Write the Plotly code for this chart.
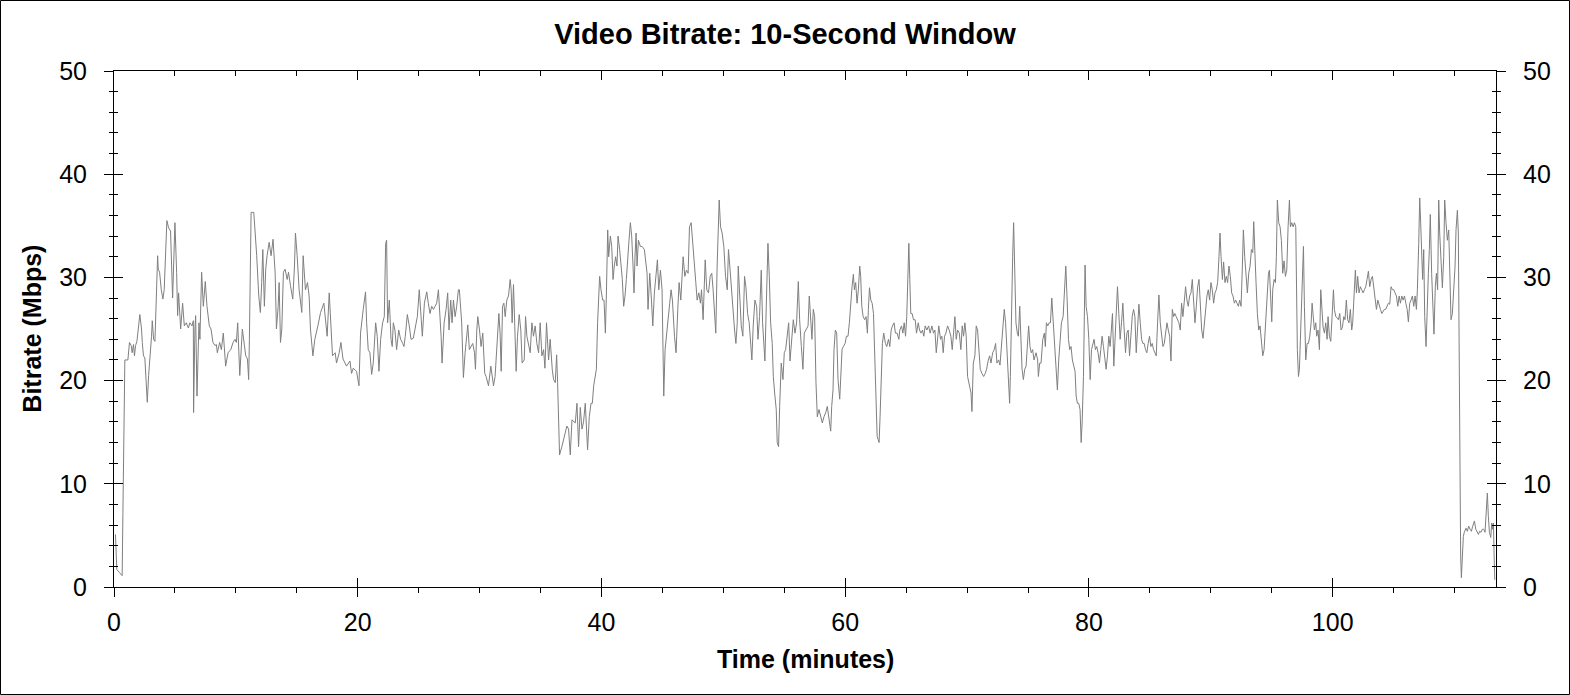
import plotly.graph_objs as go

# =============================================================================
# Data: (minute, Mbps), one list per stretch of film
# =============================================================================

SEG_A = [(0.12, 5.1), (0.23, 1.7), (0.45, 1.4), (0.67, 1.1), (0.73, 7.1), (0.84, 15.9),
         (0.89, 22.0), (1.14, 22.0), (1.27, 23.7), (1.41, 23.4), (1.49, 22.7), (1.60, 23.5),
         (1.68, 22.4), (1.77, 23.4), (1.88, 23.8), (2.12, 26.4), (2.26, 25.0), (2.32, 23.7),
         (2.42, 22.4), (2.53, 22.2), (2.70, 19.2), (2.73, 17.9), (2.84, 20.5), (2.97, 22.4),
         (3.08, 24.3), (3.14, 25.8), (3.25, 24.0), (3.36, 23.8), (3.47, 28.2), (3.58, 32.1),
         (3.63, 30.8), (3.74, 30.5), (3.88, 28.8), (4.01, 27.9), (4.12, 28.8), (4.21, 32.2),
         (4.34, 35.5), (4.48, 34.8), (4.64, 34.5), (4.81, 28.0), (5.00, 35.3), (5.14, 30.5),
         (5.22, 26.3), (5.30, 28.5), (5.47, 25.0), (5.63, 27.5), (5.77, 25.3), (5.93, 25.6),
         (6.10, 25.1), (6.23, 25.6), (6.40, 25.3), (6.51, 25.8), (6.53, 16.9), (6.64, 25.0),
         (6.70, 26.3), (6.81, 18.5), (6.89, 23.4), (6.97, 25.6), (7.05, 24.0), (7.19, 30.5),
         (7.33, 27.2), (7.49, 29.6), (7.63, 27.2), (7.82, 25.3), (7.96, 25.0), (8.12, 23.7),
         (8.29, 23.4), (8.40, 23.5), (8.48, 22.7), (8.67, 23.7), (8.81, 23.0), (8.97, 24.6),
         (9.16, 21.4), (9.36, 22.7), (9.58, 23.0), (9.77, 23.7), (9.93, 24.0), (10.04, 23.7),
         (10.15, 25.6), (10.32, 20.5), (10.53, 25.0), (10.70, 23.0), (10.81, 22.4), (10.95, 22.1),
         (11.05, 20.1), (11.11, 24.0), (11.25, 36.3), (11.47, 36.3), (11.55, 35.0), (11.71, 32.1),
         (11.88, 28.2), (12.01, 26.6), (12.12, 29.5), (12.21, 32.7), (12.34, 27.2), (12.45, 30.8),
         (12.56, 32.1), (12.73, 33.4), (12.89, 32.1), (13.05, 33.7), (13.22, 30.5), (13.33, 25.0),
         (13.47, 27.2), (13.55, 29.5), (13.66, 23.7), (13.77, 25.0), (13.90, 30.5), (14.04, 30.8),
         (14.21, 29.8), (14.32, 30.5), (14.48, 29.2), (14.67, 27.9), (14.81, 31.1), (14.89, 34.3),
         (15.03, 32.1), (15.19, 28.8), (15.41, 26.6), (15.52, 32.1), (15.71, 28.8), (15.88, 29.5),
         (16.01, 28.2), (16.12, 25.0), (16.32, 22.4), (16.48, 24.0), (16.73, 25.3), (16.95, 26.6),
         (17.22, 27.5), (17.49, 24.3), (17.66, 28.5), (17.82, 24.3), (17.93, 22.4), (18.15, 22.7),
         (18.26, 21.7), (18.48, 22.7), (18.62, 23.7), (18.79, 22.1), (18.95, 21.7)]

SEG_B = [(19.08, 21.4), (19.36, 21.9), (19.49, 20.7), (19.63, 21.2), (19.90, 20.9), (20.10, 19.5),
         (20.23, 24.6), (20.45, 26.9), (20.64, 28.6), (20.73, 25.6), (20.86, 23.0), (21.00, 22.7),
         (21.14, 20.6), (21.27, 21.7), (21.47, 25.6), (21.60, 24.3), (21.74, 20.9), (21.88, 24.0),
         (22.04, 25.6), (22.18, 26.2), (22.29, 33.3), (22.37, 33.6), (22.45, 25.6), (22.59, 27.8),
         (22.73, 24.0), (22.83, 23.3), (22.92, 25.6), (23.05, 24.9), (23.19, 23.0), (23.36, 24.9),
         (23.52, 24.0), (23.69, 23.6), (23.79, 23.3), (23.90, 24.3), (24.07, 26.4), (24.23, 25.3),
         (24.37, 24.0), (24.56, 24.1), (24.70, 24.9), (24.89, 26.2), (25.05, 28.8), (25.19, 25.9),
         (25.30, 24.3), (25.47, 27.5), (25.66, 28.6), (25.79, 27.5), (25.93, 26.5), (26.07, 27.2),
         (26.21, 26.9), (26.34, 27.2), (26.48, 27.5), (26.62, 28.8), (26.75, 26.5), (26.84, 24.3),
         (26.92, 21.7), (27.09, 25.6), (27.25, 26.9), (27.38, 28.5), (27.49, 24.9), (27.63, 27.8),
         (27.74, 25.6), (27.85, 27.8), (27.99, 26.2), (28.12, 27.2), (28.26, 28.8), (28.34, 28.8),
         (28.53, 25.6), (28.67, 20.3), (28.81, 22.7), (28.95, 24.6), (29.03, 25.4), (29.16, 23.0),
         (29.30, 23.3), (29.44, 23.6), (29.58, 22.7), (29.66, 21.1), (29.77, 24.9), (29.85, 26.2),
         (29.99, 24.9), (30.12, 23.3), (30.26, 24.6), (30.42, 20.7), (30.53, 20.4), (30.73, 19.5),
         (30.92, 21.4), (31.03, 20.4), (31.14, 19.5), (31.27, 20.4), (31.41, 22.7), (31.58, 26.5),
         (31.68, 24.6), (31.77, 20.9), (31.88, 27.2), (31.99, 27.5), (32.10, 26.2), (32.23, 27.8),
         (32.37, 28.2), (32.51, 29.8), (32.59, 28.8), (32.67, 25.6), (32.78, 29.3), (32.89, 25.6),
         (33.00, 20.9), (33.11, 24.3), (33.25, 26.4), (33.38, 24.9), (33.49, 21.7), (33.66, 22.0),
         (33.77, 26.2), (33.88, 24.3), (34.01, 23.6), (34.15, 22.7), (34.29, 25.6), (34.42, 24.3),
         (34.56, 25.3), (34.70, 23.6), (34.84, 22.7), (34.97, 25.6), (35.11, 22.4), (35.25, 23.0),
         (35.36, 21.2), (35.49, 25.6), (35.66, 22.0), (35.79, 24.0), (35.96, 21.1), (36.07, 20.1),
         (36.21, 19.8), (36.32, 22.5), (36.40, 19.8), (36.48, 15.9), (36.56, 12.8), (36.75, 13.6),
         (36.95, 14.6), (37.16, 15.6), (37.30, 15.3)]

SEG_C = [(37.44, 12.8), (37.58, 16.2), (37.71, 16.0), (37.85, 15.9), (37.99, 17.8), (38.12, 13.6),
         (38.26, 17.4), (38.40, 15.3), (38.53, 16.0), (38.67, 17.8), (38.86, 13.3), (39.00, 16.5),
         (39.14, 17.8), (39.25, 17.8), (39.36, 19.5), (39.49, 20.4), (39.58, 21.1), (39.68, 25.6),
         (39.79, 29.1), (39.85, 30.1), (39.96, 28.8), (40.10, 27.8), (40.21, 27.8), (40.32, 24.6),
         (40.40, 28.2), (40.51, 34.6), (40.59, 32.0), (40.73, 34.0), (40.84, 33.0), (40.95, 29.8),
         (41.05, 31.1), (41.16, 32.0), (41.27, 31.1), (41.36, 34.0), (41.49, 32.7), (41.60, 31.4),
         (41.71, 29.8), (41.82, 27.2), (41.93, 28.2), (42.04, 29.8), (42.15, 32.4), (42.26, 33.6),
         (42.37, 35.3), (42.48, 34.0), (42.59, 31.1), (42.67, 28.5), (42.75, 32.0), (42.84, 34.3),
         (42.92, 31.1), (43.03, 33.6), (43.19, 33.0), (43.33, 33.0), (43.52, 32.7), (43.63, 31.7),
         (43.74, 30.4), (43.82, 26.9), (43.96, 30.4), (44.10, 27.8), (44.21, 25.3), (44.34, 28.5),
         (44.45, 30.1), (44.59, 31.7), (44.70, 28.8), (44.84, 30.7), (44.97, 28.8), (45.08, 23.0),
         (45.11, 18.5), (45.22, 23.0), (45.36, 24.9), (45.49, 26.5), (45.60, 27.5), (45.71, 28.8),
         (45.82, 27.8), (45.99, 24.3), (46.12, 22.7), (46.26, 26.9), (46.37, 29.5), (46.51, 27.8),
         (46.62, 30.4), (46.70, 32.0), (46.84, 30.1), (46.97, 30.7), (47.11, 30.4), (47.22, 34.9),
         (47.36, 35.3), (47.49, 33.0), (47.63, 31.1), (47.74, 29.5), (47.85, 27.8), (47.99, 28.5),
         (48.12, 27.5), (48.21, 28.8), (48.34, 25.9), (48.51, 31.7), (48.64, 28.8), (48.78, 28.5),
         (48.92, 30.1), (49.05, 30.4), (49.16, 28.8), (49.30, 26.2), (49.38, 24.6), (49.49, 31.1),
         (49.58, 35.9), (49.66, 37.5), (49.77, 34.9), (49.90, 34.3), (50.04, 33.0), (50.18, 30.1),
         (50.32, 28.8), (50.42, 32.7), (50.53, 31.1), (50.67, 28.8), (50.78, 26.2), (50.92, 24.9),
         (51.03, 23.6), (51.14, 25.6), (51.22, 31.1), (51.36, 27.2), (51.47, 25.3), (51.60, 24.3),
         (51.74, 30.1), (51.85, 29.1), (51.99, 26.5), (52.12, 25.6), (52.26, 23.6), (52.34, 22.0),
         (52.45, 25.3), (52.59, 27.8), (52.73, 27.2), (52.84, 24.0), (52.97, 26.2), (53.11, 30.7),
         (53.22, 25.6), (53.33, 22.7), (53.41, 21.9), (53.52, 27.2), (53.66, 33.3), (53.77, 30.1),
         (53.88, 25.6), (54.01, 23.6), (54.10, 20.4), (54.21, 18.8), (54.34, 17.2), (54.42, 14.0),
         (54.53, 13.6), (54.62, 17.5), (54.75, 21.7), (54.89, 20.1), (55.00, 22.7), (55.11, 23.0),
         (55.25, 24.3), (55.36, 25.6), (55.47, 21.9), (55.60, 24.0), (55.74, 25.9), (55.88, 24.6),
         (56.01, 25.6), (56.15, 29.6), (56.26, 25.9), (56.40, 23.3), (56.53, 21.1), (56.64, 24.6),
         (56.75, 24.9)]

SEG_D = [(56.95, 25.3), (57.05, 28.2), (57.16, 26.5), (57.27, 24.0), (57.38, 26.9), (57.49, 26.2),
         (57.60, 19.8), (57.71, 16.5), (57.85, 17.2), (57.99, 16.5), (58.12, 15.9), (58.26, 16.5),
         (58.40, 16.9), (58.53, 17.5), (58.67, 16.5), (58.81, 15.1), (58.89, 17.5), (59.00, 19.1),
         (59.08, 23.0), (59.19, 24.9), (59.30, 24.6), (59.41, 20.1), (59.55, 18.2), (59.63, 20.4),
         (59.74, 23.0), (59.85, 23.3), (59.99, 23.6), (60.10, 24.3), (60.23, 24.3), (60.34, 25.6),
         (60.45, 27.8), (60.56, 29.1), (60.67, 30.3), (60.75, 28.8), (60.86, 29.5), (60.97, 27.5),
         (61.08, 28.8), (61.19, 31.1), (61.27, 30.1), (61.36, 27.2), (61.47, 26.2), (61.60, 25.9),
         (61.71, 26.2), (61.82, 24.6), (61.90, 26.9), (61.99, 29.0), (62.10, 27.8), (62.21, 27.5),
         (62.32, 26.5), (62.42, 22.7), (62.53, 18.5), (62.62, 14.6), (62.70, 14.3), (62.78, 14.0),
         (62.86, 16.5), (62.95, 20.4), (63.05, 23.6), (63.16, 24.6), (63.30, 23.6), (63.41, 23.3),
         (63.55, 24.0), (63.66, 23.3), (63.77, 24.9), (63.88, 25.3), (64.01, 25.6), (64.12, 24.6),
         (64.26, 24.6), (64.40, 24.0), (64.48, 24.9), (64.62, 25.3), (64.73, 24.6), (64.84, 25.6),
         (64.95, 24.3), (65.05, 26.2), (65.14, 29.1), (65.22, 33.3), (65.30, 29.8), (65.38, 26.5),
         (65.49, 26.5), (65.60, 25.9), (65.74, 25.9), (65.85, 24.6), (65.99, 25.6), (66.10, 24.9),
         (66.21, 24.6), (66.34, 24.9), (66.45, 24.3), (66.56, 25.3), (66.70, 24.9), (66.84, 25.3),
         (66.97, 24.6), (67.11, 25.3), (67.25, 24.6), (67.36, 24.9), (67.47, 22.7), (67.58, 24.3),
         (67.68, 25.3), (67.82, 24.0), (67.93, 24.3), (68.04, 22.7), (68.15, 24.3), (68.26, 24.6),
         (68.40, 25.3), (68.53, 24.9), (68.67, 24.3), (68.78, 23.0), (68.89, 24.9), (69.00, 26.2),
         (69.11, 24.0), (69.22, 24.9), (69.36, 24.6), (69.49, 23.0), (69.60, 25.3), (69.71, 24.3),
         (69.82, 25.6), (69.93, 24.3), (70.04, 20.4), (70.18, 19.5), (70.32, 18.8), (70.40, 17.0),
         (70.51, 21.7), (70.64, 22.4), (70.75, 25.3), (70.86, 24.9), (70.97, 22.7), (71.08, 21.1),
         (71.22, 20.7), (71.36, 20.4), (71.49, 20.7), (71.60, 21.1), (71.74, 22.0), (71.85, 22.4),
         (71.96, 21.7), (72.10, 22.7), (72.23, 23.0), (72.34, 23.6), (72.45, 21.7), (72.59, 22.0),
         (72.70, 21.5), (72.81, 23.3), (72.92, 24.3), (73.05, 26.9), (73.16, 25.6), (73.27, 23.3),
         (73.38, 20.4), (73.49, 17.8), (73.55, 20.4), (73.66, 28.8), (73.74, 32.0), (73.82, 35.3),
         (73.90, 30.4), (74.01, 25.6), (74.12, 24.6), (74.21, 24.3), (74.32, 27.2), (74.42, 24.0),
         (74.51, 21.1), (74.62, 20.1), (74.73, 21.1), (74.84, 21.4), (74.95, 23.6), (75.05, 25.3),
         (75.16, 23.3), (75.27, 22.7), (75.38, 23.0), (75.49, 22.0), (75.66, 22.7)]

SEG_E = [(75.79, 22.0), (75.85, 20.4), (75.96, 21.7), (76.07, 21.7), (76.21, 24.0), (76.34, 24.6),
         (76.42, 23.3), (76.51, 25.6), (76.62, 25.3), (76.73, 25.6), (76.84, 25.6), (76.95, 28.0),
         (77.05, 26.2), (77.16, 23.6), (77.30, 21.7), (77.41, 19.1), (77.52, 22.0), (77.63, 24.3),
         (77.74, 25.6), (77.88, 26.2), (77.99, 29.1), (78.10, 31.1), (78.21, 27.8), (78.32, 24.0),
         (78.42, 23.0), (78.53, 23.3), (78.64, 22.0), (78.75, 21.4), (78.86, 20.9), (78.95, 18.5),
         (79.05, 17.8), (79.16, 17.8), (79.27, 17.2), (79.36, 14.0), (79.44, 15.9), (79.55, 20.4),
         (79.63, 25.6), (79.68, 31.2), (79.77, 27.2), (79.88, 26.2), (79.99, 24.0), (80.10, 20.1),
         (80.21, 23.0), (80.32, 23.6), (80.42, 24.0), (80.53, 23.0), (80.64, 23.3), (80.75, 22.7),
         (80.86, 21.7), (80.97, 23.0), (81.08, 24.3), (81.19, 23.3), (81.30, 22.4), (81.41, 21.1),
         (81.52, 22.4), (81.63, 24.3), (81.74, 23.3), (81.85, 25.6), (81.93, 26.5), (82.04, 21.4),
         (82.15, 24.9), (82.26, 27.2), (82.34, 29.1), (82.45, 26.5), (82.56, 24.0), (82.67, 25.6),
         (82.78, 27.5), (82.89, 24.9), (83.00, 22.7), (83.11, 24.6), (83.22, 24.9), (83.33, 22.4),
         (83.44, 24.6), (83.55, 26.2), (83.66, 26.9), (83.77, 26.2), (83.88, 22.7), (83.99, 24.9),
         (84.10, 27.4), (84.21, 25.6), (84.32, 24.0), (84.42, 23.6), (84.53, 23.6), (84.64, 23.0),
         (84.75, 22.7), (84.86, 23.6), (84.97, 24.3), (85.08, 23.3), (85.19, 23.6), (85.30, 23.0),
         (85.41, 22.7), (85.52, 22.4), (85.63, 25.6), (85.74, 28.3), (85.85, 25.6), (85.96, 24.3),
         (86.07, 23.3), (86.18, 23.6), (86.29, 24.6), (86.40, 25.6), (86.51, 24.9), (86.62, 24.3),
         (86.73, 21.9), (86.84, 26.9), (86.95, 26.2), (87.05, 26.5), (87.16, 26.2), (87.27, 25.9),
         (87.38, 25.6), (87.49, 24.9), (87.60, 27.5), (87.71, 26.2), (87.82, 27.5), (87.93, 29.1),
         (88.04, 27.8), (88.15, 27.2), (88.26, 28.2), (88.37, 28.5), (88.48, 29.8), (88.59, 27.8),
         (88.70, 25.6), (88.81, 27.2), (88.92, 29.1), (89.03, 29.8), (89.14, 27.5), (89.25, 24.9),
         (89.36, 24.1), (89.47, 25.6), (89.58, 27.2), (89.68, 28.2), (89.79, 28.8), (89.90, 27.8),
         (90.01, 29.5), (90.12, 28.8), (90.23, 27.5), (90.34, 28.5), (90.45, 28.8), (90.56, 29.5),
         (90.67, 32.0), (90.75, 34.3), (90.84, 32.0), (90.95, 29.8), (91.05, 31.5), (91.16, 29.5),
         (91.27, 30.1), (91.38, 29.5), (91.49, 31.1), (91.60, 30.1), (91.71, 28.5), (91.82, 28.2),
         (91.93, 27.5), (92.04, 27.8), (92.15, 27.5), (92.26, 27.2), (92.37, 27.8), (92.48, 27.2),
         (92.59, 31.1), (92.67, 34.6), (92.78, 32.0), (92.89, 30.4), (93.00, 28.5), (93.11, 30.4),
         (93.22, 31.1), (93.33, 32.7), (93.44, 32.4), (93.52, 35.4), (93.60, 32.0), (93.71, 29.5),
         (93.82, 26.5), (93.93, 24.9), (94.04, 25.3), (94.15, 23.3), (94.26, 22.4), (94.37, 23.0),
         (94.48, 25.6), (94.56, 27.8)]

SEG_F = [(94.67, 30.1), (94.73, 30.4), (94.81, 30.7), (94.89, 27.8), (95.00, 25.7), (95.08, 28.8),
         (95.19, 29.8), (95.30, 29.5), (95.38, 32.0), (95.46, 37.5), (95.57, 35.3), (95.68, 34.9),
         (95.79, 33.6), (95.90, 30.4), (96.01, 31.6), (96.12, 30.1), (96.23, 30.7), (96.34, 34.9),
         (96.45, 37.5), (96.53, 34.9), (96.64, 35.3), (96.75, 34.9), (96.86, 35.3), (96.97, 34.9),
         (97.02, 28.8), (97.10, 23.0), (97.19, 20.4), (97.27, 21.1), (97.35, 24.0), (97.43, 27.5),
         (97.52, 30.4), (97.60, 33.0), (97.68, 27.2), (97.79, 22.0), (97.90, 23.6), (98.01, 23.6),
         (98.12, 24.3), (98.23, 25.6), (98.31, 27.5), (98.39, 25.9), (98.50, 24.9), (98.61, 25.6),
         (98.69, 24.3), (98.80, 24.9), (98.91, 23.0), (99.02, 28.8), (99.10, 27.5), (99.21, 25.2),
         (99.32, 24.6), (99.43, 25.6), (99.54, 24.0), (99.62, 26.2), (99.73, 24.3), (99.84, 23.8),
         (99.95, 26.2), (100.06, 28.8), (100.14, 26.9), (100.25, 26.2), (100.36, 26.1), (100.47, 25.9),
         (100.58, 26.5), (100.69, 24.9), (100.80, 25.2), (100.91, 26.2), (101.01, 25.9), (101.12, 27.8),
         (101.23, 25.9), (101.34, 25.6), (101.45, 26.9), (101.56, 24.9), (101.64, 25.6), (101.75, 28.8),
         (101.86, 30.7), (101.95, 28.5), (102.05, 30.1), (102.16, 28.5), (102.27, 29.1), (102.38, 28.8),
         (102.49, 28.5), (102.60, 28.8), (102.71, 29.1), (102.82, 29.8), (102.93, 30.6), (103.04, 29.1),
         (103.15, 29.8), (103.26, 30.1), (103.37, 28.8), (103.48, 27.8), (103.59, 26.9), (103.70, 27.8),
         (103.81, 27.2), (103.92, 26.9), (104.03, 26.5), (104.13, 26.7), (104.24, 26.9), (104.35, 26.9),
         (104.46, 27.2), (104.57, 27.5), (104.68, 27.4), (104.79, 29.1), (104.90, 28.8), (105.01, 28.8),
         (105.12, 28.5), (105.23, 28.2), (105.34, 27.2), (105.45, 28.2), (105.56, 27.5), (105.67, 28.2),
         (105.78, 27.8), (105.89, 28.2), (106.00, 27.5), (106.11, 26.9), (106.21, 25.7), (106.32, 27.5),
         (106.43, 27.8), (106.54, 28.2), (106.65, 27.2), (106.76, 28.2), (106.87, 26.9), (106.95, 28.8),
         (107.06, 33.3), (107.14, 37.7), (107.22, 35.3), (107.30, 32.0), (107.38, 29.8), (107.47, 32.7),
         (107.55, 26.2), (107.66, 23.3), (107.74, 27.5), (107.85, 30.4), (107.93, 32.7), (108.01, 36.1),
         (108.12, 30.4), (108.23, 27.5), (108.31, 24.5), (108.42, 29.1), (108.51, 30.4), (108.61, 28.8),
         (108.70, 37.5), (108.78, 34.3), (108.89, 31.1), (109.00, 29.0), (109.11, 32.0), (109.19, 37.5),
         (109.30, 35.3), (109.41, 33.6), (109.52, 34.6), (109.63, 28.8), (109.71, 25.9), (109.82, 26.5),
         (109.93, 28.8), (110.04, 31.1), (110.12, 34.6), (110.23, 36.5), (110.31, 34.3), (110.37, 25.6),
         (110.42, 21.1), (110.45, 7.8), (110.50, 3.0), (110.56, 0.9), (110.64, 3.6), (110.72, 4.9),
         (110.80, 5.3), (110.94, 5.7), (111.05, 5.4), (111.16, 5.9), (111.27, 5.6), (111.38, 5.4),
         (111.49, 5.9), (111.63, 6.4), (111.74, 5.6), (111.85, 5.3), (111.96, 5.1), (112.06, 5.4),
         (112.17, 5.3), (112.28, 5.6), (112.39, 5.6), (112.50, 5.3), (112.61, 7.8), (112.69, 9.1),
         (112.77, 6.9), (112.86, 5.3), (112.97, 4.8), (113.05, 6.2), (113.10, 5.6), (113.19, 6.2),
         (113.24, 3.3), (113.30, 0.7)]

SEGMENTS = [SEG_A, SEG_B, SEG_C, SEG_D, SEG_E, SEG_F]

X_RANGE = [0, 113.4]
Y_RANGE = [0, 50]

TITLE = "Video Bitrate: 10-Second Window"
X_TITLE = "Time (minutes)"
Y_TITLE = "Bitrate (Mbps)"

FONT = "Liberation Sans, Arial, sans-serif"

# =============================================================================
# Figure
# =============================================================================

minutes = [t for seg in SEGMENTS for t, _ in seg]
mbps = [v for seg in SEGMENTS for _, v in seg]

fig = go.Figure()
fig.add_trace(go.Scatter(x=minutes, y=mbps, mode="lines",
                         line=dict(color="#7f7f7f", width=1),
                         showlegend=False, hoverinfo="x+y"))

# empty traces so the overlay axes (used for crossing / mirrored ticks) get drawn
for xa, ya in [("x2", "y2"), ("x3", "y3"), ("x", "y4")]:
    fig.add_trace(go.Scatter(x=[None], y=[None], xaxis=xa, yaxis=ya,
                             showlegend=False, hoverinfo="skip"))

tick_font = dict(family=FONT, size=25, color="black")

base_x = dict(range=X_RANGE, dtick=20, tick0=0, showgrid=False, zeroline=False,
              showline=True, linecolor="black", linewidth=1, tickcolor="black",
              tickwidth=1, ticklen=9, fixedrange=True)
base_y = dict(range=Y_RANGE, dtick=10, tick0=0, showgrid=False, zeroline=False,
              showline=True, linecolor="black", linewidth=1, tickcolor="black",
              tickwidth=1, ticklen=9, fixedrange=True)

fig.update_layout(
    width=1570, height=695,
    paper_bgcolor="white", plot_bgcolor="white",
    margin=dict(l=114, r=74, t=71, b=108),
    font=dict(family=FONT, color="black"),
    title=dict(text="<b>" + TITLE + "</b>", x=0.5, xanchor="center",
               y=1 - 34 / 695, yanchor="middle",
               font=dict(family=FONT, size=29, color="black")),
    # bottom: labels + outside half of the ticks
    xaxis=dict(base_x, side="bottom", ticks="outside", tickfont=tick_font,
               ticklabelstandoff=4,
               minor=dict(dtick=5, tick0=0, ticks="outside", ticklen=5,
                          tickcolor="black")),
    # bottom: inside half of the major ticks
    xaxis2=dict(base_x, overlaying="x", anchor="y", side="bottom", ticks="inside",
                showticklabels=False),
    # top: mirrored inside ticks
    xaxis3=dict(base_x, overlaying="x", anchor="y", side="top", ticks="inside",
                showticklabels=False,
                minor=dict(dtick=5, tick0=0, ticks="inside", ticklen=5,
                           tickcolor="black")),
    # left: labels + outside half
    yaxis=dict(base_y, side="left", ticks="outside", tickfont=tick_font,
               ticklabelstandoff=12,
               minor=dict(dtick=2, tick0=0, ticks="outside", ticklen=4,
                          tickcolor="black")),
    yaxis2=dict(base_y, overlaying="y", anchor="x", side="left", ticks="inside",
                showticklabels=False,
                minor=dict(dtick=2, tick0=0, ticks="inside", ticklen=4,
                           tickcolor="black")),
    # right: labels + both halves
    yaxis3=dict(base_y, overlaying="y", anchor="x", side="right", ticks="outside",
                tickfont=tick_font, ticklabelstandoff=12,
                minor=dict(dtick=2, tick0=0, ticks="outside", ticklen=4,
                           tickcolor="black")),
    yaxis4=dict(base_y, overlaying="y", anchor="x", side="right", ticks="inside",
                showticklabels=False,
                minor=dict(dtick=2, tick0=0, ticks="inside", ticklen=4,
                           tickcolor="black")),
)

# axis titles
fig.add_annotation(text="<b>" + X_TITLE + "</b>", xref="paper", yref="paper",
                   x=0.5, y=-0.1395, xanchor="center", yanchor="middle",
                   showarrow=False, font=dict(family=FONT, size=25, color="black"))
fig.add_annotation(text="<b>" + Y_TITLE + "</b>", xref="paper", yref="paper",
                   x=-0.0596, y=0.5, xanchor="center", yanchor="middle", textangle=-90,
                   showarrow=False, font=dict(family=FONT, size=25, color="black"))

# thin frame round the whole picture
fig.add_shape(type="rect", xref="paper", yref="paper",
              x0=-113.5 / 1382, x1=1455.5 / 1382, y0=-107.5 / 516, y1=586.5 / 516,
              line=dict(color="black", width=1), fillcolor="rgba(0,0,0,0)")

fig.write_html("out.html", config=dict(displayModeBar=False),
               post_script="document.body.style.margin='0';")
